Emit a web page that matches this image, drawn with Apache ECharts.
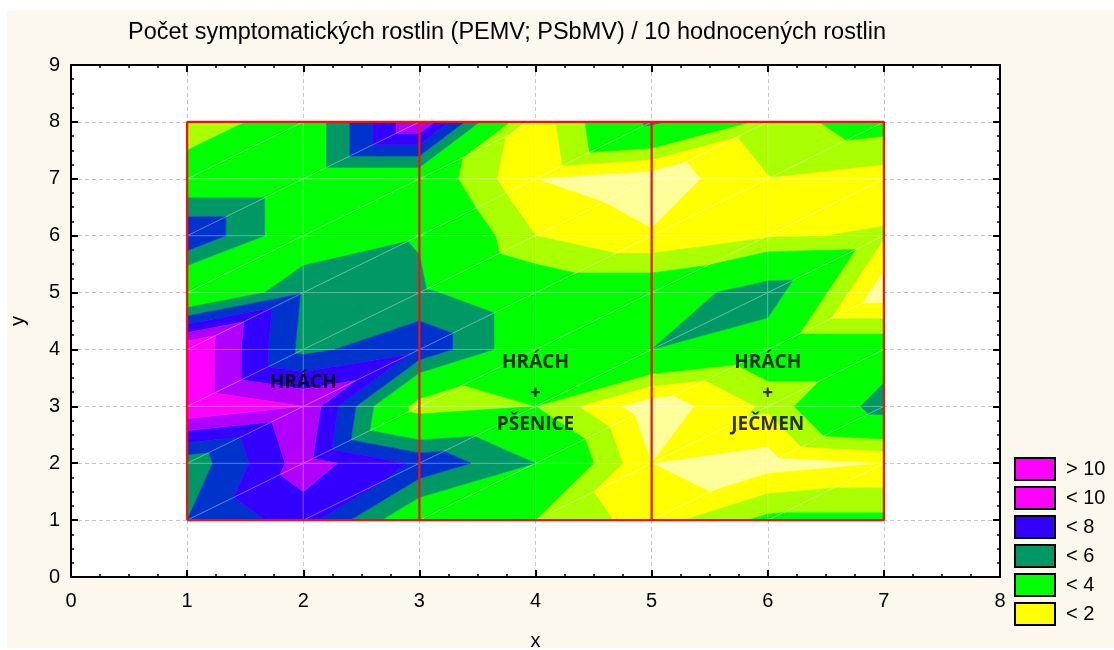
<!DOCTYPE html>
<html><head><meta charset="utf-8">
<script src="https://cdn.jsdelivr.net/npm/echarts@6/dist/echarts.min.js"></script>
<style>
html,body{margin:0;padding:0;background:#fff;}
#bg{position:absolute;left:7px;top:10px;width:1107px;height:638px;background:#fdf8ee;}
#c{position:absolute;left:0;top:0;width:1114px;height:650px;}
</style>
</head><body><div id="bg"></div><div id="c"></div>
<script>
// grid coordinates
const xValues = [1, 2, 3, 4, 5, 6, 7];
const yValues = [1, 2, 3, 4, 5, 6, 7, 8];
// symptomatic plants at each node (x = 1..7), one row per y
const rowY1 = [6,   7.5, 3.8, 3,   1.5, 3.3, 3.3];
const rowY2 = [5.3, 8.5, 6.8, 5,   1,   0.5, 1];
const rowY3 = [10,  9,   2.4, 3,   0.3, 2.2, 5.7];
const rowY4 = [10,  5.7, 6.8, 4,   5,   4,   4];
const rowY5 = [3.2, 5.9, 5.2, 4,   4,   5.8, 0.3];
const rowY6 = [7,   4,   4.9, 2,   1.1, 1.9, 2.1];
const rowY7 = [4,   4,   4,   1,   0.3, 1.95, 1.5];
const rowY8 = [2,   4,   9,   1.3, 5.3, 2.6, 3.5];
const zRows = [rowY1, rowY2, rowY3, rowY4, rowY5, rowY6, rowY7, rowY8];

const levelBreaks = [1, 2, 3, 5, 6, 7, 8, 9];
const bandColors = ['#ffff99', '#ffff00', '#aaff00', '#00ff00', '#009966', '#0033cc', '#3300ff', '#b000ff', '#ff00ff'];

const legendLabels = ['> 10', '< 10', '< 8', '< 6', '< 4', '< 2'];
const legendColors = ['#ff00ff', '#ff00ff', '#3300ff', '#009966', '#00ff00', '#ffff00'];

const fieldDividers = [3, 5];
const fieldLabelText = ['HRÁCH', 'HRÁCH\n+\nPŠENICE', 'HRÁCH\n+\nJEČMEN'];
const fieldLabelX = [2, 4, 6];
const fieldLabelY = [3.42, 3.22, 3.22];

const titleText = 'Počet symptomatických rostlin (PEMV; PSbMV) / 10 hodnocených rostlin';

// triangles (split each cell along "/" diagonal)
const triangles = [];
for (let j = 0; j < yValues.length - 1; j++) {
  for (let i = 0; i < xValues.length - 1; i++) {
    const p00 = [xValues[i], yValues[j], zRows[j][i]];
    const p10 = [xValues[i + 1], yValues[j], zRows[j][i + 1]];
    const p11 = [xValues[i + 1], yValues[j + 1], zRows[j + 1][i + 1]];
    const p01 = [xValues[i], yValues[j + 1], zRows[j + 1][i]];
    triangles.push([...p00, ...p10, ...p11]);
    triangles.push([...p00, ...p11, ...p01]);
  }
}

function clip(poly, lvl, above) {
  if (!isFinite(lvl)) return poly;
  const ins = p => above ? p.v >= lvl : p.v <= lvl;
  const out = [];
  for (let k = 0; k < poly.length; k++) {
    const a = poly[k], b = poly[(k + 1) % poly.length];
    const ia = ins(a), ib = ins(b);
    if (ia) out.push(a);
    if (ia !== ib) {
      const t = (lvl - a.v) / (b.v - a.v);
      out.push({x: a.x + t * (b.x - a.x), y: a.y + t * (b.y - a.y), v: lvl});
    }
  }
  return out;
}

const xMin = xValues[0], xMax = xValues[xValues.length - 1];
const yMin = yValues[0], yMax = yValues[yValues.length - 1];

const chart = echarts.init(document.getElementById('c'), null, {renderer: 'canvas'});

const tickFont = {color: '#000', fontSize: 20, fontFamily: 'Liberation Sans'};
const axisLine = {onZero: false, lineStyle: {color: '#000', width: 2}};
const axisTick = {inside: true, length: 7, lineStyle: {color: '#000', width: 2}};
const minorTick = {show: true, splitNumber: 4, length: 3, lineStyle: {color: '#000', width: 1.5}};
const splitLine = {show: true, lineStyle: {color: '#c8c8c8', width: 1, type: [4, 3]}};

const series = [
  {
    type: 'custom',
    coordinateSystem: 'cartesian2d',
    xAxisIndex: 0, yAxisIndex: 0,
    data: triangles,
    encode: {x: [0, 3, 6], y: [1, 4, 7]},
    silent: true,
    zlevel: 1, z: 2,
    renderItem: function (params, api) {
      const pts = [0, 1, 2].map(k => ({x: api.value(k * 3), y: api.value(k * 3 + 1), v: api.value(k * 3 + 2)}));
      const bounds = [-Infinity, ...levelBreaks, Infinity];
      const children = [];
      for (let b = 0; b < bandColors.length; b++) {
        let poly = clip(pts, bounds[b], true);
        poly = clip(poly, bounds[b + 1], false);
        if (poly.length >= 3) {
          children.push({
            type: 'polygon',
            shape: {points: poly.map(p => api.coord([p.x, p.y]))},
            style: {fill: bandColors[b], stroke: bandColors[b], lineWidth: 0.6}
          });
        }
      }
      children.push({
        type: 'polygon',
        shape: {points: pts.map(p => api.coord([p.x, p.y]))},
        style: {fill: null, stroke: 'rgba(255,255,255,0.35)', lineWidth: 0.8}
      });
      return {type: 'group', children: children};
    }
  },
  {
    type: 'line', xAxisIndex: 0, yAxisIndex: 0, zlevel: 1, z: 5, silent: true,
    symbol: 'none', animation: false,
    lineStyle: {color: '#f01010', width: 2.2},
    data: [[xMin, yMin], [xMax, yMin], [xMax, yMax], [xMin, yMax], [xMin, yMin]]
  }
];
fieldDividers.forEach(d => series.push({
  type: 'line', xAxisIndex: 0, yAxisIndex: 0, zlevel: 1, z: 5, silent: true,
  symbol: 'none', animation: false,
  lineStyle: {color: '#f01010', width: 2.2},
  data: [[d, yMin], [d, yMax]]
}));
series.push({
  type: 'scatter', xAxisIndex: 0, yAxisIndex: 0, zlevel: 1, z: 6, silent: true,
  symbolSize: 0,
  data: fieldLabelText.map((t, k) => ({value: [fieldLabelX[k], fieldLabelY[k]], name: t})),
  label: {
    show: true, position: 'inside', formatter: p => p.name,
    fontFamily: 'Open Sans', fontWeight: 'bold', fontSize: 19, lineHeight: 31, color: '#000', align: 'center'
  }
});

const graphic = [
  {type: 'text', style: {text: titleText, x: 507, y: 33, textAlign: 'center', textVerticalAlign: 'middle', font: '23.5px "Liberation Sans"', fill: '#000'}}
];
legendLabels.forEach((lab, k) => {
  graphic.push({type: 'rect', shape: {x: 1015, y: 458 + k * 29, width: 40, height: 22}, style: {fill: legendColors[k], stroke: '#000', lineWidth: 2}});
  graphic.push({type: 'text', style: {text: lab, x: 1066, y: 469 + k * 29, textVerticalAlign: 'middle', font: '20px "Liberation Sans"', fill: '#000'}});
});

chart.setOption({
  animation: false,
  grid: {left: 71, top: 65, width: 929, height: 512, show: true, backgroundColor: '#ffffff', borderWidth: 0,
         containLabel: false, outerBoundsMode: 'none'},
  xAxis: [
    {type: 'value', min: 0, max: 8, interval: 1, position: 'bottom',
     axisLine: axisLine, axisTick: axisTick, minorTick: minorTick, splitLine: splitLine,
     axisLabel: Object.assign({margin: 14}, tickFont),
     name: 'x', nameLocation: 'middle', nameGap: 54, nameTextStyle: {color: '#000', fontSize: 20, fontFamily: 'Liberation Sans'}},
    {type: 'value', min: 0, max: 8, interval: 1, position: 'top',
     axisLine: axisLine, axisTick: axisTick, minorTick: minorTick, splitLine: {show: false}, axisLabel: {show: false}}
  ],
  yAxis: [
    {type: 'value', min: 0, max: 9, interval: 1, position: 'left',
     axisLine: axisLine, axisTick: axisTick, minorTick: minorTick, splitLine: splitLine,
     axisLabel: Object.assign({margin: 11}, tickFont),
     name: 'y', nameLocation: 'middle', nameGap: 43, nameTextStyle: {color: '#000', fontSize: 20, fontFamily: 'Liberation Sans'}},
    {type: 'value', min: 0, max: 9, interval: 1, position: 'right',
     axisLine: axisLine, axisTick: axisTick, minorTick: minorTick, splitLine: {show: false}, axisLabel: {show: false}}
  ],
  series: series,
  graphic: graphic
});
</script>
</body></html>
